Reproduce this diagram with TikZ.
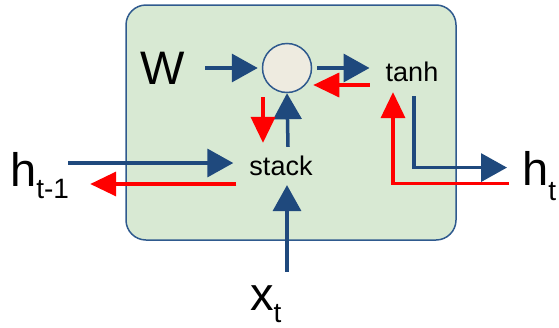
\documentclass[tikz,border=0pt]{standalone}
\usepackage{fontspec}
\setmainfont{Liberation Sans}
\usetikzlibrary{calc,arrows.meta,positioning}
\definecolor{navy}{HTML}{1F497D}
\definecolor{cellgreen}{HTML}{D8E9D3}
\definecolor{dotfill}{HTML}{EEEBE0}
\definecolor{rimblue}{HTML}{2F5A8E}
\newcommand\subtxt[1]{{\fontsize{28}{28}\selectfont #1}}

\begin{document}
\begin{tikzpicture}[x=1pt,y=-1pt,
 fwd/.style={-{Triangle[length=26pt,width=28pt]},draw=navy,line width=3.5pt},
 bwd/.style={-{Triangle[length=26pt,width=24pt]},draw=red,line width=3.5pt},
 small/.style={inner sep=0pt,font=\fontsize{27}{27}\selectfont},
 big/.style={inner sep=0pt,font=\fontsize{47}{47}\selectfont}]
\useasboundingbox (0,0) rectangle (559,327);
\draw [draw=rimblue,line width=1.5pt,fill=cellgreen,rounded corners=20pt] (126,5) rectangle (456,240);
\node [circle,draw=rimblue,line width=1.5pt,fill=dotfill,minimum size=49pt,inner sep=0pt] (mul) at (287,68) {};
\node [big] (W) at (163,68) {W};
\node [small] (tanh) at (412,72) {tanh};
\node [small] (stack) at (281,166) {stack};
\node [big,anchor=base west] (hprev) at (10,186) {h\raisebox{-12pt}{\subtxt{t-1}}};
\node [big,anchor=base west] (hnext) at (522,185) {h\raisebox{-15pt}{\subtxt{t}}};
\node [big,anchor=base west] (xin) at (250,310) {x\raisebox{-12pt}{\subtxt{t}}};
% forward pass
\draw [fwd] ([xshift=20pt]W.east) -- ($(mul.west)+(-4,0)$);
\draw [fwd] ([xshift=5pt]mul.east) -- ($(tanh.west)+(-16,-4)$);
\draw [fwd] ($(stack.north)+(7,-9)$) -- (mul.south);
\draw [fwd] ($(hprev.east|-stack.west)+(-1,-3)$) -- ($(stack.west)+(-16,-3)$);
\draw [fwd] ($(xin.north -| mul)+(0,-13)$) -- ($(stack.south -| mul)+(0,9)$);
\draw [fwd] ($(tanh.south)+(2,14)$) |- ($(hnext.west)+(-15,-8)$);
% backward pass
\draw [bwd] ($(tanh.west)+(-16,13)$) -- ($(mul.east)+(1,17)$);
\draw [bwd] ($(mul.south)+(-24,4)$) -- ($(stack.north)+(-18,-13)$);
\draw [bwd] ($(stack.west)+(-13,18)$) -- ($(hprev.east|-stack.west)+(21,18)$);
\draw [bwd] ($(hnext.west)+(-13,8)$) -| ($(tanh.south)+(-19,10)$);
\end{tikzpicture}
\end{document}
